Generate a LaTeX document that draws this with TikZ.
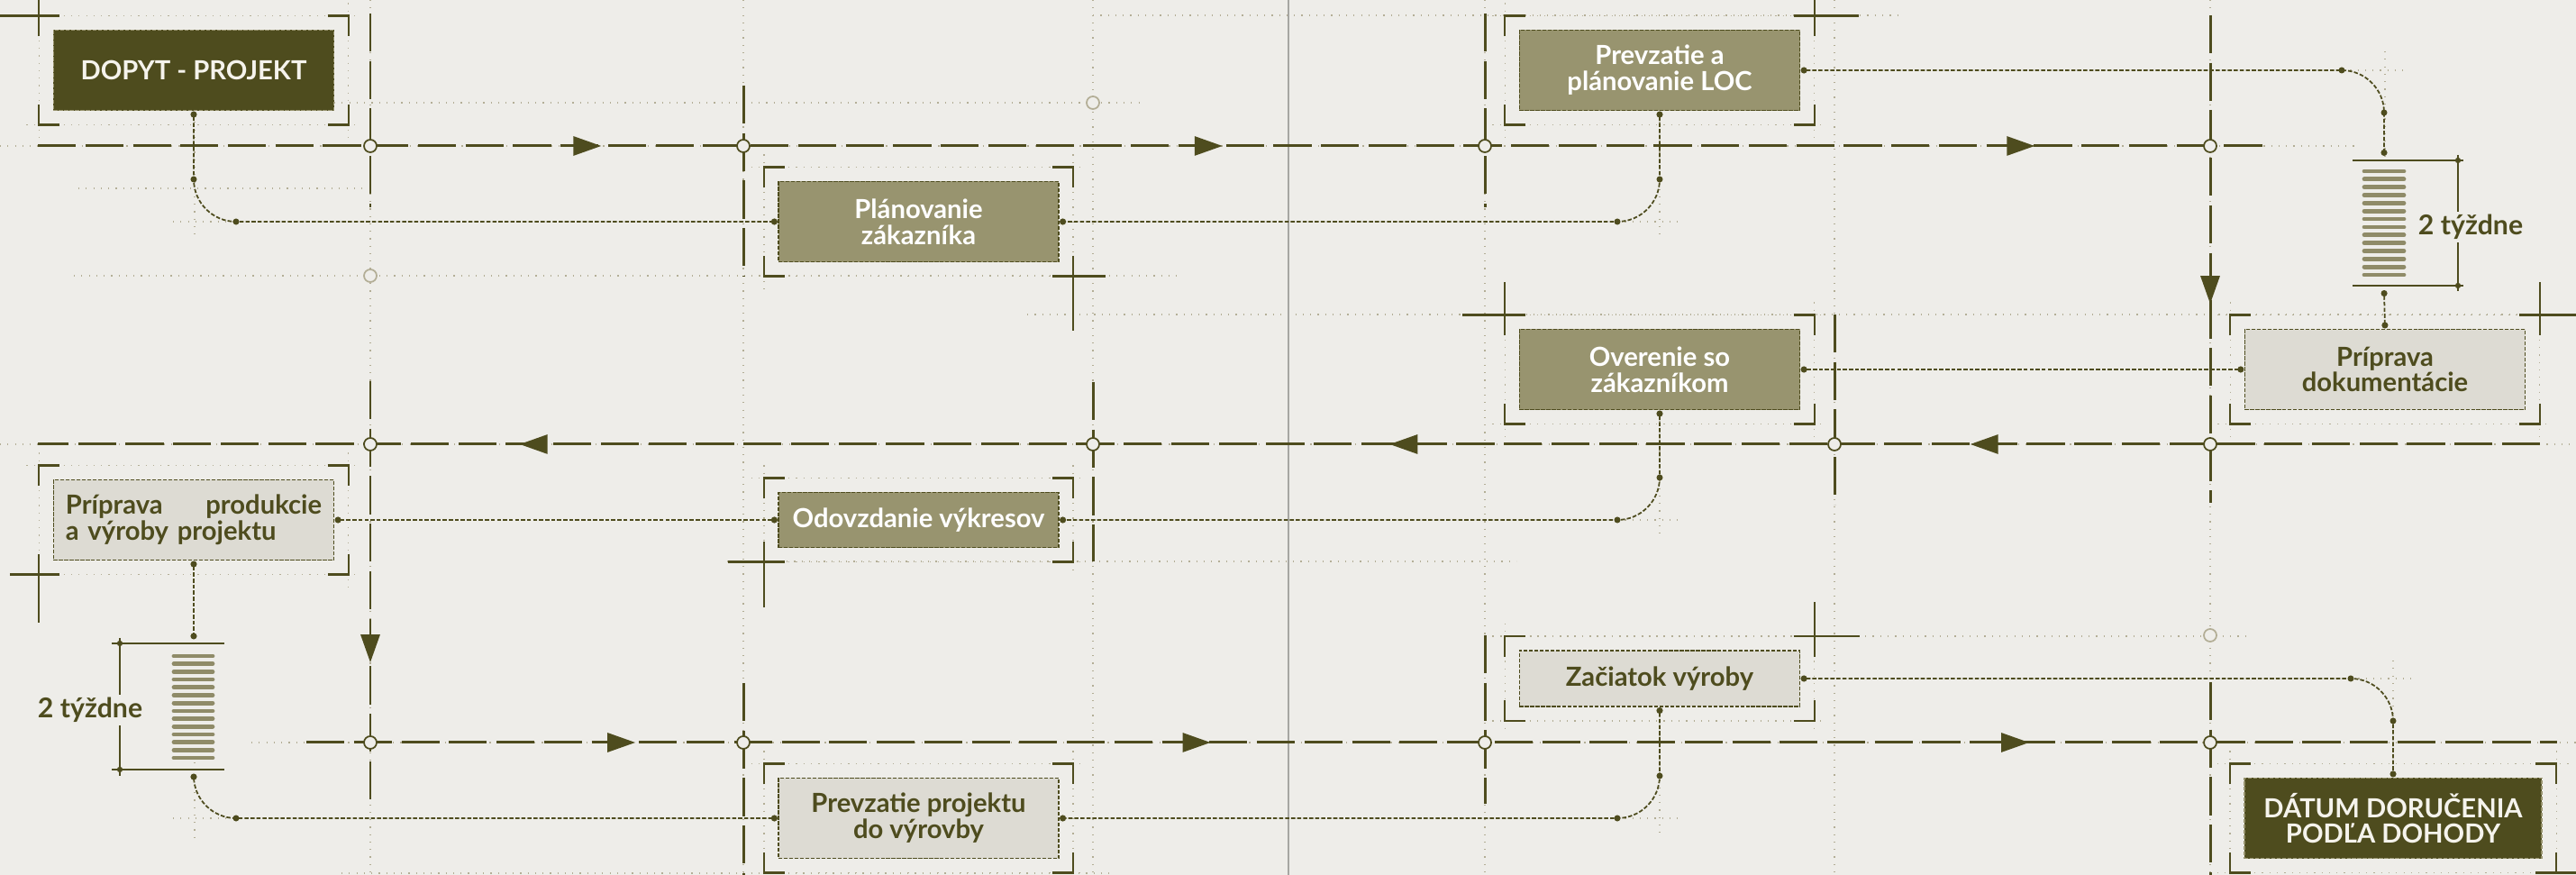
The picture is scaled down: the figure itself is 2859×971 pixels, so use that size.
\documentclass[tikz,border=0pt]{standalone}
\usepackage{fontspec}
\setmainfont{Lato}
\usetikzlibrary{arrows.meta,positioning,fit,decorations.markings}

\definecolor{paper}{HTML}{EEEDE9}
\definecolor{oliv}{HTML}{4E4C1E}
\definecolor{midc}{HTML}{98946F}
\definecolor{pale}{HTML}{DDDBD3}
\definecolor{barc}{HTML}{8F8B68}
\definecolor{cream}{HTML}{F5F3EC}
\definecolor{guidec}{HTML}{B3AE96}
\definecolor{rulec}{HTML}{A6A6A2}

\newcommand\boxfont{\fontsize{8.3pt}{8.2pt}\selectfont\bfseries}
\newcommand\spanfont{\fontsize{8.6pt}{9pt}\selectfont\bfseries}

% corner marks round a box
\newcommand\brk[1]{%
  \node[fit=(#1), inner sep=0.15cm, outer sep=0pt] (#1-f) {};
  \draw[guide] ([xshift=-0.14cm]#1-f.north west) -- ([xshift=0.14cm]#1-f.north east)
    ([xshift=-0.14cm]#1-f.south west) -- ([xshift=0.14cm]#1-f.south east)
    ([yshift=0.14cm]#1-f.north west) -- ([yshift=-0.14cm]#1-f.south west)
    ([yshift=0.14cm]#1-f.north east) -- ([yshift=-0.14cm]#1-f.south east);
  \draw[corner] (#1-f.north west) ++(0,23) -- (#1-f.north west) -- ++(23,0)
    (#1-f.north east) ++(-23,0) -- (#1-f.north east) -- ++(0,23)
    (#1-f.south east) ++(0,-23) -- (#1-f.south east) -- ++(-23,0)
    (#1-f.south west) ++(23,0) -- (#1-f.south west) -- ++(0,-23);
}

\begin{document}
\begin{tikzpicture}[x=0.01cm, y=-0.01cm, >={Triangle[length=0.31cm,width=0.21cm]},
    box/.style={rectangle, minimum width=3.11cm, minimum height=0.89cm, inner sep=2pt,
      outer sep=0.01cm, align=center, font=\boxfont, draw=oliv, line width=0.4pt,
      dash pattern=on 1.2pt off 0.5pt},
    darkbox/.style={box, fill=oliv, text=cream, draw=midc},
    midbox/.style={box, fill=midc, text=white},
    palebox/.style={box, fill=pale, text=oliv},
    wait/.style={rectangle, minimum width=0.47cm, minimum height=1.39cm, inner sep=0, outer sep=0.05cm},
    guide/.style={draw=guidec, line width=0.35pt, dotted},
    corner/.style={draw=oliv, line width=0.6pt},
    axis/.style={draw=oliv, line width=0.85pt, dash pattern=on 12pt off 3pt},
    marks/.style={postaction={decorate,solid}},
    junct/.style={circle, draw=oliv, fill=paper, line width=0.5pt, minimum size=0.14cm, inner sep=0},
    ghost/.style={junct, draw=guidec},
    link/.style={draw=oliv, line width=0.5pt, dash pattern=on 1.3pt off 0.6pt,
      {Circle[length=2pt]}-{Circle[length=2pt]}, rounded corners=0.47cm},
    bar/.style={draw=barc, line width=1.35pt, line cap=round},
    dim/.style={draw=oliv, line width=0.45pt},
    span/.style={fill=paper, inner sep=1pt, text=oliv, font=\spanfont}]

  \fill[paper] (0,0) rectangle (2859,971);
  \useasboundingbox (0,0) rectangle (2859,971);

  % guide lines
  \foreach \x in {411,825,1213,1648,2036,2453}
    \draw[guide] (\x,0) -- (\x,971);
  \draw[guide] (0,162) -- (2615,162);
  \draw[guide] (0,493) -- (2859,493);
  \draw[guide] (279,824) -- (2859,824);
  \draw[guide] (371,114) -- (1267,114) (82,306) -- (1309,306) (87,209) -- (402,209)
    (1213,17) -- (2110,17) (1140,349) -- (2859,349) (807,623) -- (1683,623)
    (1657,706) -- (2494,706) (379,969) -- (1236,969);
  \draw[guide] (216,127) -- (216,267) (192,246) -- (262,246)
    (1842,127) -- (1842,267) (1795,246) -- (1866,246)
    (2600,78) -- (2671,78) (2647,57) -- (2647,173)
    (1842,459) -- (1842,598) (1795,577) -- (1866,577)
    (216,846) -- (216,930) (192,908) -- (262,908)
    (1842,791) -- (1842,930) (1795,908) -- (1866,908)
    (2609,753) -- (2680,753) (2656,733) -- (2656,800);
  \draw[rulec, line width=0.45pt] (1430,0) -- (1430,971);

  % Nodes
  \node[darkbox] (dopyt) at (215,78) {DOPYT - PROJEKT};
  \node[midbox] (plan) at (1019.5,246) {Plánovanie\\zákazníka};
  \node[midbox] (loc) at (1842,78) {Prevzatie a\\plánovanie LOC};
  \node[midbox] (over) at (1842,410) {Overenie so\\zákazníkom};
  \node[palebox] (dok) at (2647,410) {Príprava\\dokumentácie};
  \node[midbox, minimum height=0.61cm] (odov) at (1019.5,577) {Odovzdanie výkresov};
  \node[palebox, text width=2.84cm, align=left] (prod) at (215,577) {Príprava\hfill produkcie\\a výroby projektu};
  \node[palebox, minimum height=0.62cm] (zac) at (1842,753) {Začiatok výroby};
  \node[palebox] (prevz) at (1019.5,908) {Prevzatie projektu\\do výrovby};
  \node[darkbox, minimum width=3.3cm] (datum) at (2656,908) {DÁTUM DORUČENIA\\PODĽA DOHODY};
  \node[wait] (wait1) at (2646,247.5) {};
  \node[wait] (wait2) at (215,784) {};

  % corner marks
  \foreach \bx in {dopyt,plan,loc,over,dok,odov,prod,zac,prevz,datum} {
    \brk{\bx}
  }
  \draw[corner] (dopyt-f.north west) -- ++(-45,0) (dopyt-f.north west) -- ++(0,-20)
    (plan-f.south east) -- ++(36,0) (plan-f.south east) -- ++(0,60)
    (loc-f.north east) -- ++(0,-20) (loc-f.north east) -- ++(49,0)
    (over-f.north west) -- ++(0,-36) (over-f.north west) -- ++(-47,0)
    (dok-f.north east) -- ++(0,-36) (dok-f.north east) -- ++(45,0)
    (prod-f.south west) -- ++(-32,0) (prod-f.south west) -- ++(0,53)
    (odov-f.south west) -- ++(-40,0) (odov-f.south west) -- ++(0,50)
    (zac-f.north east) -- ++(0,-38) (zac-f.north east) -- ++(50,0)
    (datum-f.south east) -- ++(25,0);

  % time spans
  \foreach \k in {0,...,13} {
    \draw[bar] (2624,{190+8.85*\k}) -- (2668,{190+8.85*\k});
    \draw[bar] (193,{728+8.7*\k}) -- (236,{728+8.7*\k});
  }
  \draw[dim] (2611,178) -- (2734,178) (2611,317) -- (2734,317) (2728,172) -- (2728,323);
  \draw[dim] (124,714) -- (249,714) (124,854) -- (249,854) (133,708) -- (133,861);
  \fill[oliv] (2728,178) circle[radius=0.9pt] (2728,317) circle[radius=0.9pt]
    (133,714) circle[radius=0.9pt] (133,854) circle[radius=0.9pt];
  \node[span] (span1) at (2742,252) {2 týždne};
  \node[span] (span2) at (100,788) {2 týždne};

  % main lines
  \coordinate (r1s) at (42,162);   \coordinate (r1e) at (2521,162);
  \coordinate (r2s) at (2819,493); \coordinate (r2e) at (42,493);
  \coordinate (r3s) at (340,824);  \coordinate (r3e) at (2838,824);
  \draw[axis, marks, decoration={markings, mark=at position 6.25cm with {\arrow{>}},
    mark=at position 13.14cm with {\arrow{>}}, mark=at position 22.15cm with {\arrow{>}}}] (r1s) -- (r1e);
  \draw[axis, marks, decoration={markings, mark=at position 6.32cm with {\arrow{>}},
    mark=at position 12.76cm with {\arrow{>}}, mark=at position 22.41cm with {\arrow{>}}}] (r2s) -- (r2e);
  \draw[axis, marks, decoration={markings, mark=at position 3.65cm with {\arrow{>}},
    mark=at position 10.03cm with {\arrow{>}}, mark=at position 19.11cm with {\arrow{>}}}] (r3s) -- (r3e);
  \draw[axis] (411,15) -- (411,230);
  \draw[axis, marks, decoration={markings, mark=at position 3.12cm with {\arrow{>}}}] (411,423) -- (411,895);
  \draw[axis] (825,95) -- (825,307);
  \draw[axis] (825,758) -- (825,971);
  \draw[axis] (1213,424) -- (1213,623);
  \draw[axis] (1648,15) -- (1648,230);
  \draw[axis] (1648,705) -- (1648,892);
  \draw[axis] (2036,349) -- (2036,560);
  \draw[axis, marks, decoration={markings, mark=at position 3.2cm with {\arrow{>}}}] (2453,17) -- (2453,558);
  \draw[axis] (2453,757) -- (2453,971);

  % junctions
  \foreach \x/\n in {411/a,825/b,1648/c,2453/d} {
    \node[junct] (r1\n) at (\x,162) {};
    \node[junct] (r3\n) at (\x,824) {};
  }
  \foreach \x/\n in {411/a,1213/b,2036/c,2453/d} {
    \node[junct] (r2\n) at (\x,493) {};
  }
  \node[ghost] (g1) at (1213,114) {};
  \node[ghost] (g2) at (411,306) {};
  \node[ghost] (g3) at (2453,705) {};

  % Links
  \draw[link] (dopyt.south) |- (plan.west);
  \draw[link] (loc.south) |- (plan.east);
  \draw[link] (loc.east) -| (wait1.north);
  \draw[link] (wait1.south) -- (dok.north);
  \draw[link] (dok.west) -- (over.east);
  \draw[link] (over.south) |- (odov.east);
  \draw[link] (odov.west) -- (prod.east);
  \draw[link] (prod.south) -- (wait2.north);
  \draw[link] (wait2.south) |- (prevz.west);
  \draw[link] (zac.south) |- (prevz.east);
  \draw[link] (zac.east) -| (datum.north);
  \foreach \p in {(215,199),(262,246),(1842,199),(1795,246),(2599,78),(2646,125),
      (1842,530),(1795,577),(262,908),(1842,861),(1795,908),(2609,753),(2656,800)} {
    \fill[oliv] \p circle[radius=1pt];
  }
\end{tikzpicture}
\end{document}
